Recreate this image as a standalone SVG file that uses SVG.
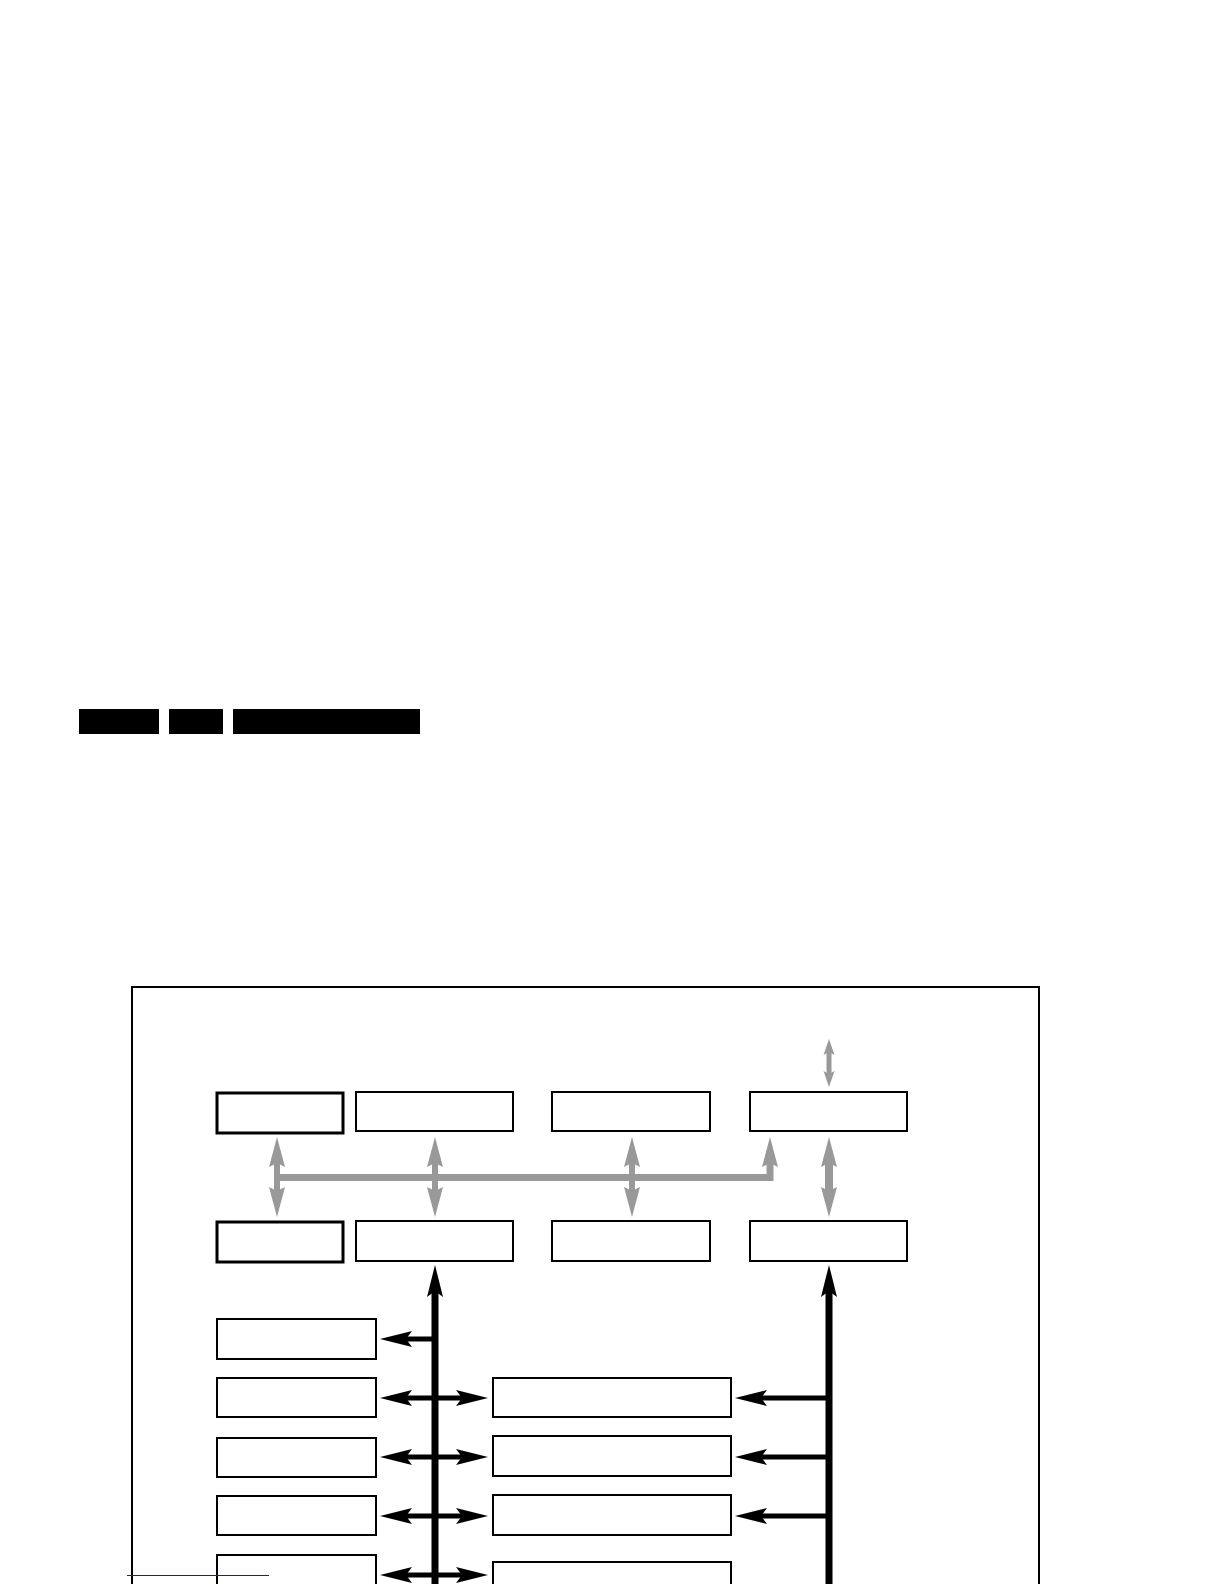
<svg xmlns="http://www.w3.org/2000/svg" width="1224" height="1584" viewBox="0 0 1224 1584">
<style>
.box{fill:#ffffff;stroke:#000000;stroke-width:2}
.thick{stroke-width:3}
.bar{fill:#000000}
.blk{fill:none;stroke:#000000;stroke-linejoin:miter}
.gry{fill:none;stroke:#999999;stroke-linejoin:miter}
</style>
<defs>
<marker id="hb" markerUnits="userSpaceOnUse" viewBox="0 0 32 18" markerWidth="32" markerHeight="18" refX="8" refY="9" orient="auto-start-reverse">
<path d="M32,9 L0,1 L6,9 L0,17 Z" fill="#000000"/>
</marker>
<marker id="hg" markerUnits="userSpaceOnUse" viewBox="0 0 30 18" markerWidth="30" markerHeight="18" refX="8" refY="9" orient="auto-start-reverse">
<path d="M30,9 L0,1 L4,9 L0,17 Z" fill="#999999"/>
</marker>
<marker id="hs" markerUnits="userSpaceOnUse" viewBox="0 0 16 12" markerWidth="16" markerHeight="12" refX="5" refY="6" orient="auto-start-reverse">
<path d="M16,6 L0,0.5 L3,6 L0,11.5 Z" fill="#999999"/>
</marker>
</defs>
<rect width="1224" height="1584" fill="#ffffff"/>
<g id="header">
<rect class="bar" x="79" y="709" width="80" height="25"/>
<rect class="bar" x="169" y="709" width="54" height="25"/>
<rect class="bar" x="233" y="709" width="187" height="25"/>
</g>
<g id="frame">
<path d="M132,1600 V987 H1039 V1600" fill="none" stroke="#000000" stroke-width="2"/>
</g>
<g id="connectors">
<path class="gry" stroke-width="7" d="M277,1177.5 H770 V1159" marker-end="url(#hg)"/>
<path class="gry" stroke-width="6" d="M277,1159 V1195" marker-start="url(#hg)" marker-end="url(#hg)"/>
<path class="gry" stroke-width="6" d="M435,1159 V1195" marker-start="url(#hg)" marker-end="url(#hg)"/>
<path class="gry" stroke-width="6" d="M632,1159 V1195" marker-start="url(#hg)" marker-end="url(#hg)"/>
<path class="gry" stroke-width="8" d="M829,1159 V1195" marker-start="url(#hg)" marker-end="url(#hg)"/>
<path class="gry" stroke-width="5" d="M829,1050 V1076" marker-start="url(#hs)" marker-end="url(#hs)"/>
<path class="blk" stroke-width="7" d="M435,1600 V1289" marker-end="url(#hb)"/>
<path class="blk" stroke-width="7" d="M829,1600 V1289" marker-end="url(#hb)"/>
<path class="blk" stroke-width="5" d="M435,1339 H404" marker-end="url(#hb)"/>
<path class="blk" stroke-width="5" d="M404,1398 H464" marker-start="url(#hb)" marker-end="url(#hb)"/>
<path class="blk" stroke-width="5" d="M404,1457 H464" marker-start="url(#hb)" marker-end="url(#hb)"/>
<path class="blk" stroke-width="5" d="M404,1516 H464" marker-start="url(#hb)" marker-end="url(#hb)"/>
<path class="blk" stroke-width="5" d="M404,1575 H464" marker-start="url(#hb)" marker-end="url(#hb)"/>
<path class="blk" stroke-width="5" d="M829,1398 H759" marker-end="url(#hb)"/>
<path class="blk" stroke-width="5" d="M829,1457 H759" marker-end="url(#hb)"/>
<path class="blk" stroke-width="5" d="M829,1516 H759" marker-end="url(#hb)"/>
</g>
<g id="n1"><rect class="box thick" x="217" y="1093" width="126" height="40"/></g>
<g id="n2"><rect class="box" x="356" y="1092" width="157" height="39"/></g>
<g id="n3"><rect class="box" x="552" y="1092" width="158" height="39"/></g>
<g id="n4"><rect class="box" x="750" y="1092" width="157" height="39"/></g>
<g id="n5"><rect class="box thick" x="217" y="1222" width="126" height="40"/></g>
<g id="n6"><rect class="box" x="356" y="1221" width="157" height="40"/></g>
<g id="n7"><rect class="box" x="552" y="1221" width="158" height="40"/></g>
<g id="n8"><rect class="box" x="750" y="1221" width="157" height="40"/></g>
<g id="n9"><rect class="box" x="217" y="1319" width="159" height="40"/></g>
<g id="n10"><rect class="box" x="217" y="1378" width="159" height="39"/></g>
<g id="n11"><rect class="box" x="217" y="1438" width="159" height="39"/></g>
<g id="n12"><rect class="box" x="217" y="1496" width="159" height="39"/></g>
<g id="n13"><rect class="box" x="217" y="1555" width="159" height="40"/></g>
<g id="n14"><rect class="box" x="493" y="1378" width="238" height="39"/></g>
<g id="n15"><rect class="box" x="493" y="1436" width="238" height="40"/></g>
<g id="n16"><rect class="box" x="493" y="1495" width="238" height="40"/></g>
<g id="n17"><rect class="box" x="493" y="1562" width="238" height="40"/></g>
<g id="footer">
<line x1="127" y1="1575.5" x2="269" y2="1575.5" stroke="#1c1c9c" stroke-width="1"/>
</g>
</svg>
